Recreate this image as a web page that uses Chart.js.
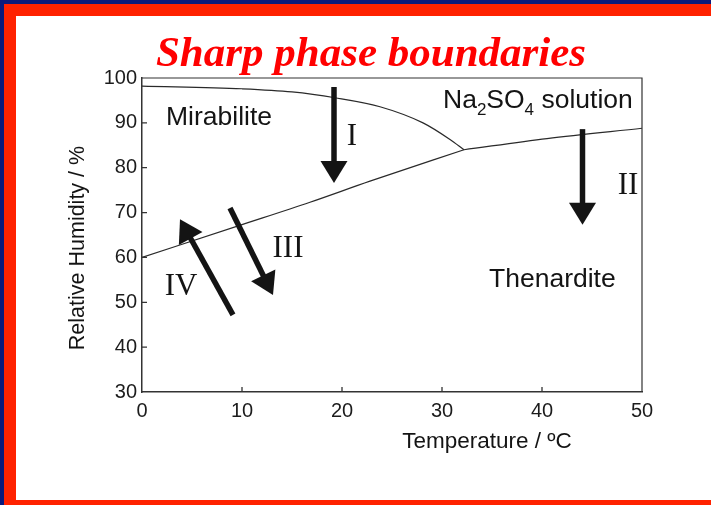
<!DOCTYPE html>
<html>
<head>
<meta charset="utf-8">
<script src="https://cdn.jsdelivr.net/npm/chart.js@4.4.1/dist/chart.umd.min.js"></script>
<style>
    html, body { margin: 0; padding: 0; }
    #frame { position: relative; width: 711px; height: 505px; background: #0b1a7c; overflow: hidden; }
    #red { position: absolute; left: 4px; top: 4px; width: 707px; height: 501px; background: #ff2200; }
    #paper { position: absolute; left: 16px; top: 16px; width: 695px; height: 484px; background: #ffffff; }
    #phase-chart { position: absolute; left: 0; top: 0; }
</style>
</head>
<body>
<div id="frame">
    <div id="red"></div>
    <div id="paper"></div>
    <canvas id="phase-chart" width="711" height="505"></canvas>
</div>
<script>
// Phase boundaries of the Na2SO4 - H2O system (temperature in °C, RH in %)
const mirabiliteSolutionT = [0, 10, 15, 19.3, 23.8, 28.1, 30.8, 32.2];
const mirabiliteSolutionRH = [98.2, 97.6, 96.9, 95.6, 93.6, 90.0, 86.3, 84.0];

const mirabiliteThenarditeT = [0, 10, 16.8, 22.8, 32.2];
const mirabiliteThenarditeRH = [60.0, 67.3, 72.3, 77.0, 84.0];

const solutionThenarditeT = [32.2, 40.5, 50];
const solutionThenarditeRH = [84.0, 86.5, 88.8];

const xTicks = [0, 10, 20, 30, 40, 50];
const yTicks = [30, 40, 50, 60, 70, 80, 90, 100];

// Process arrows: [name, tailT, tailRH, tipT, tipRH]
const arrows = [
    ['I', 19.2, 98.0, 19.2, 76.6],
    ['II', 44.05, 88.6, 44.05, 67.3],
    ['III', 8.8, 71.0, 13.1, 51.6],
    ['IV', 9.1, 47.2, 3.8, 68.5]
];

// Roman numeral labels next to the arrows: [text, T, RH]
const arrowLabels = [
    ['I', 21.0, 85.1],
    ['II', 48.6, 74.2],
    ['III', 14.6, 60.2],
    ['IV', 3.9, 51.7]
];

const toPoints = (xs, ys) => xs.map((x, i) => ({ x: x, y: ys[i] }));

const ink = '#141414';
const sans = '"Liberation Sans", Arial, sans-serif';
const serif = '"Liberation Serif", "Times New Roman", serif';

// Draws the title, region names, arrows, inner ticks and the frame box
const annotations = {
    id: 'annotations',
    afterDraw(chart) {
        const ctx = chart.ctx;
        const xs = chart.scales.x;
        const ys = chart.scales.y;
        const area = chart.chartArea;
        const px = v => xs.getPixelForValue(v);
        const py = v => ys.getPixelForValue(v);

        ctx.save();

        // box top and right edges
        ctx.strokeStyle = '#333';
        ctx.lineWidth = 1.2;
        ctx.beginPath();
        ctx.moveTo(area.left, area.top);
        ctx.lineTo(area.right, area.top);
        ctx.lineTo(area.right, area.bottom);
        ctx.stroke();

        // inner tick marks
        ctx.lineWidth = 1.3;
        ctx.beginPath();
        xTicks.slice(1, -1).forEach(t => {
            ctx.moveTo(px(t), area.bottom);
            ctx.lineTo(px(t), area.bottom - 5);
        });
        yTicks.slice(1, -1).forEach(t => {
            ctx.moveTo(area.left, py(t));
            ctx.lineTo(area.left + 5, py(t));
        });
        ctx.stroke();

        // arrows
        ctx.fillStyle = ink;
        ctx.strokeStyle = ink;
        arrows.forEach(([name, t0, r0, t1, r1]) => {
            const x0 = px(t0), y0 = py(r0), x1 = px(t1), y1 = py(r1);
            const len = Math.hypot(x1 - x0, y1 - y0);
            const ux = (x1 - x0) / len, uy = (y1 - y0) / len;
            const headLen = 22, headHalf = 13.5;
            const bx = x1 - ux * headLen, by = y1 - uy * headLen;
            ctx.lineWidth = 5.5;
            ctx.lineCap = 'butt';
            ctx.beginPath();
            ctx.moveTo(x0, y0);
            ctx.lineTo(bx + ux * 2, by + uy * 2);
            ctx.stroke();
            ctx.beginPath();
            ctx.moveTo(x1, y1);
            ctx.lineTo(bx - uy * headHalf, by + ux * headHalf);
            ctx.lineTo(bx + uy * headHalf, by - ux * headHalf);
            ctx.closePath();
            ctx.fill();
        });

        // roman numerals
        ctx.font = '31px ' + serif;
        ctx.textAlign = 'center';
        ctx.textBaseline = 'alphabetic';
        arrowLabels.forEach(([text, t, r]) => ctx.fillText(text, px(t), py(r)));

        // region names
        ctx.font = '26.5px ' + sans;
        ctx.textAlign = 'left';
        ctx.fillText('Mirabilite', px(2.4), py(89.6));
        ctx.fillText('Thenardite', px(34.7), py(53.5));

        // Na2SO4 solution with subscripts
        let x = px(30.1);
        const base = py(93.4);
        const parts = [['Na', 0], ['2', 1], ['SO', 0], ['4', 1], [' solution', 0]];
        parts.forEach(([s, sub]) => {
            ctx.font = (sub ? '17px ' : '26.5px ') + sans;
            ctx.fillText(s, x, base + (sub ? 7 : 0));
            x += ctx.measureText(s).width;
        });

        // axis titles
        ctx.font = '22.5px ' + sans;
        ctx.textAlign = 'center';
        ctx.fillText('Temperature / \u00baC', 487, 448);
        ctx.save();
        ctx.translate(84, 248);
        ctx.rotate(-Math.PI / 2);
        ctx.font = '21.5px ' + sans;
        ctx.fillText('Relative Humidity / %', 0, 0);
        ctx.restore();

        // slide title
        ctx.fillStyle = '#ff0000';
        ctx.font = 'italic bold 43px ' + serif;
        ctx.fillText('Sharp phase boundaries', 371, 66);

        ctx.restore();
    }
};

const lineStyle = {
    borderColor: '#2a2a2a',
    borderWidth: 1.2,
    pointRadius: 0,
    fill: false
};

new Chart(document.getElementById('phase-chart'), {
    type: 'line',
    data: {
        datasets: [
            Object.assign({ label: 'Mirabilite / solution', data: toPoints(mirabiliteSolutionT, mirabiliteSolutionRH), cubicInterpolationMode: 'monotone' }, lineStyle),
            Object.assign({ label: 'Mirabilite / Thenardite', data: toPoints(mirabiliteThenarditeT, mirabiliteThenarditeRH), cubicInterpolationMode: 'monotone' }, lineStyle),
            Object.assign({ label: 'Solution / Thenardite', data: toPoints(solutionThenarditeT, solutionThenarditeRH), cubicInterpolationMode: 'monotone' }, lineStyle)
        ]
    },
    options: {
        responsive: false,
        animation: false,
        events: [],
        layout: { padding: { left: 0, top: 78, right: 69, bottom: 0 } },
        plugins: {
            legend: { display: false },
            title: { display: false },
            tooltip: { enabled: false }
        },
        scales: {
            x: {
                type: 'linear',
                min: 0,
                max: 50,
                afterFit: scale => { scale.height = 113; },
                afterBuildTicks: scale => { scale.ticks = xTicks.map(v => ({ value: v })); },
                grid: { display: true, drawOnChartArea: false, drawTicks: false },
                border: { display: true, color: '#333', width: 1.5 },
                ticks: { color: '#1c1c1c', padding: 7, font: { family: sans, size: 20 } }
            },
            y: {
                type: 'linear',
                min: 30,
                max: 100,
                afterFit: scale => { scale.width = 142; },
                afterBuildTicks: scale => { scale.ticks = yTicks.map(v => ({ value: v })); },
                grid: { display: true, drawOnChartArea: false, drawTicks: false },
                border: { display: true, color: '#333', width: 1.5 },
                ticks: { color: '#1c1c1c', padding: 5, font: { family: sans, size: 20 } }
            }
        }
    },
    plugins: [annotations]
});
</script>
</body>
</html>
